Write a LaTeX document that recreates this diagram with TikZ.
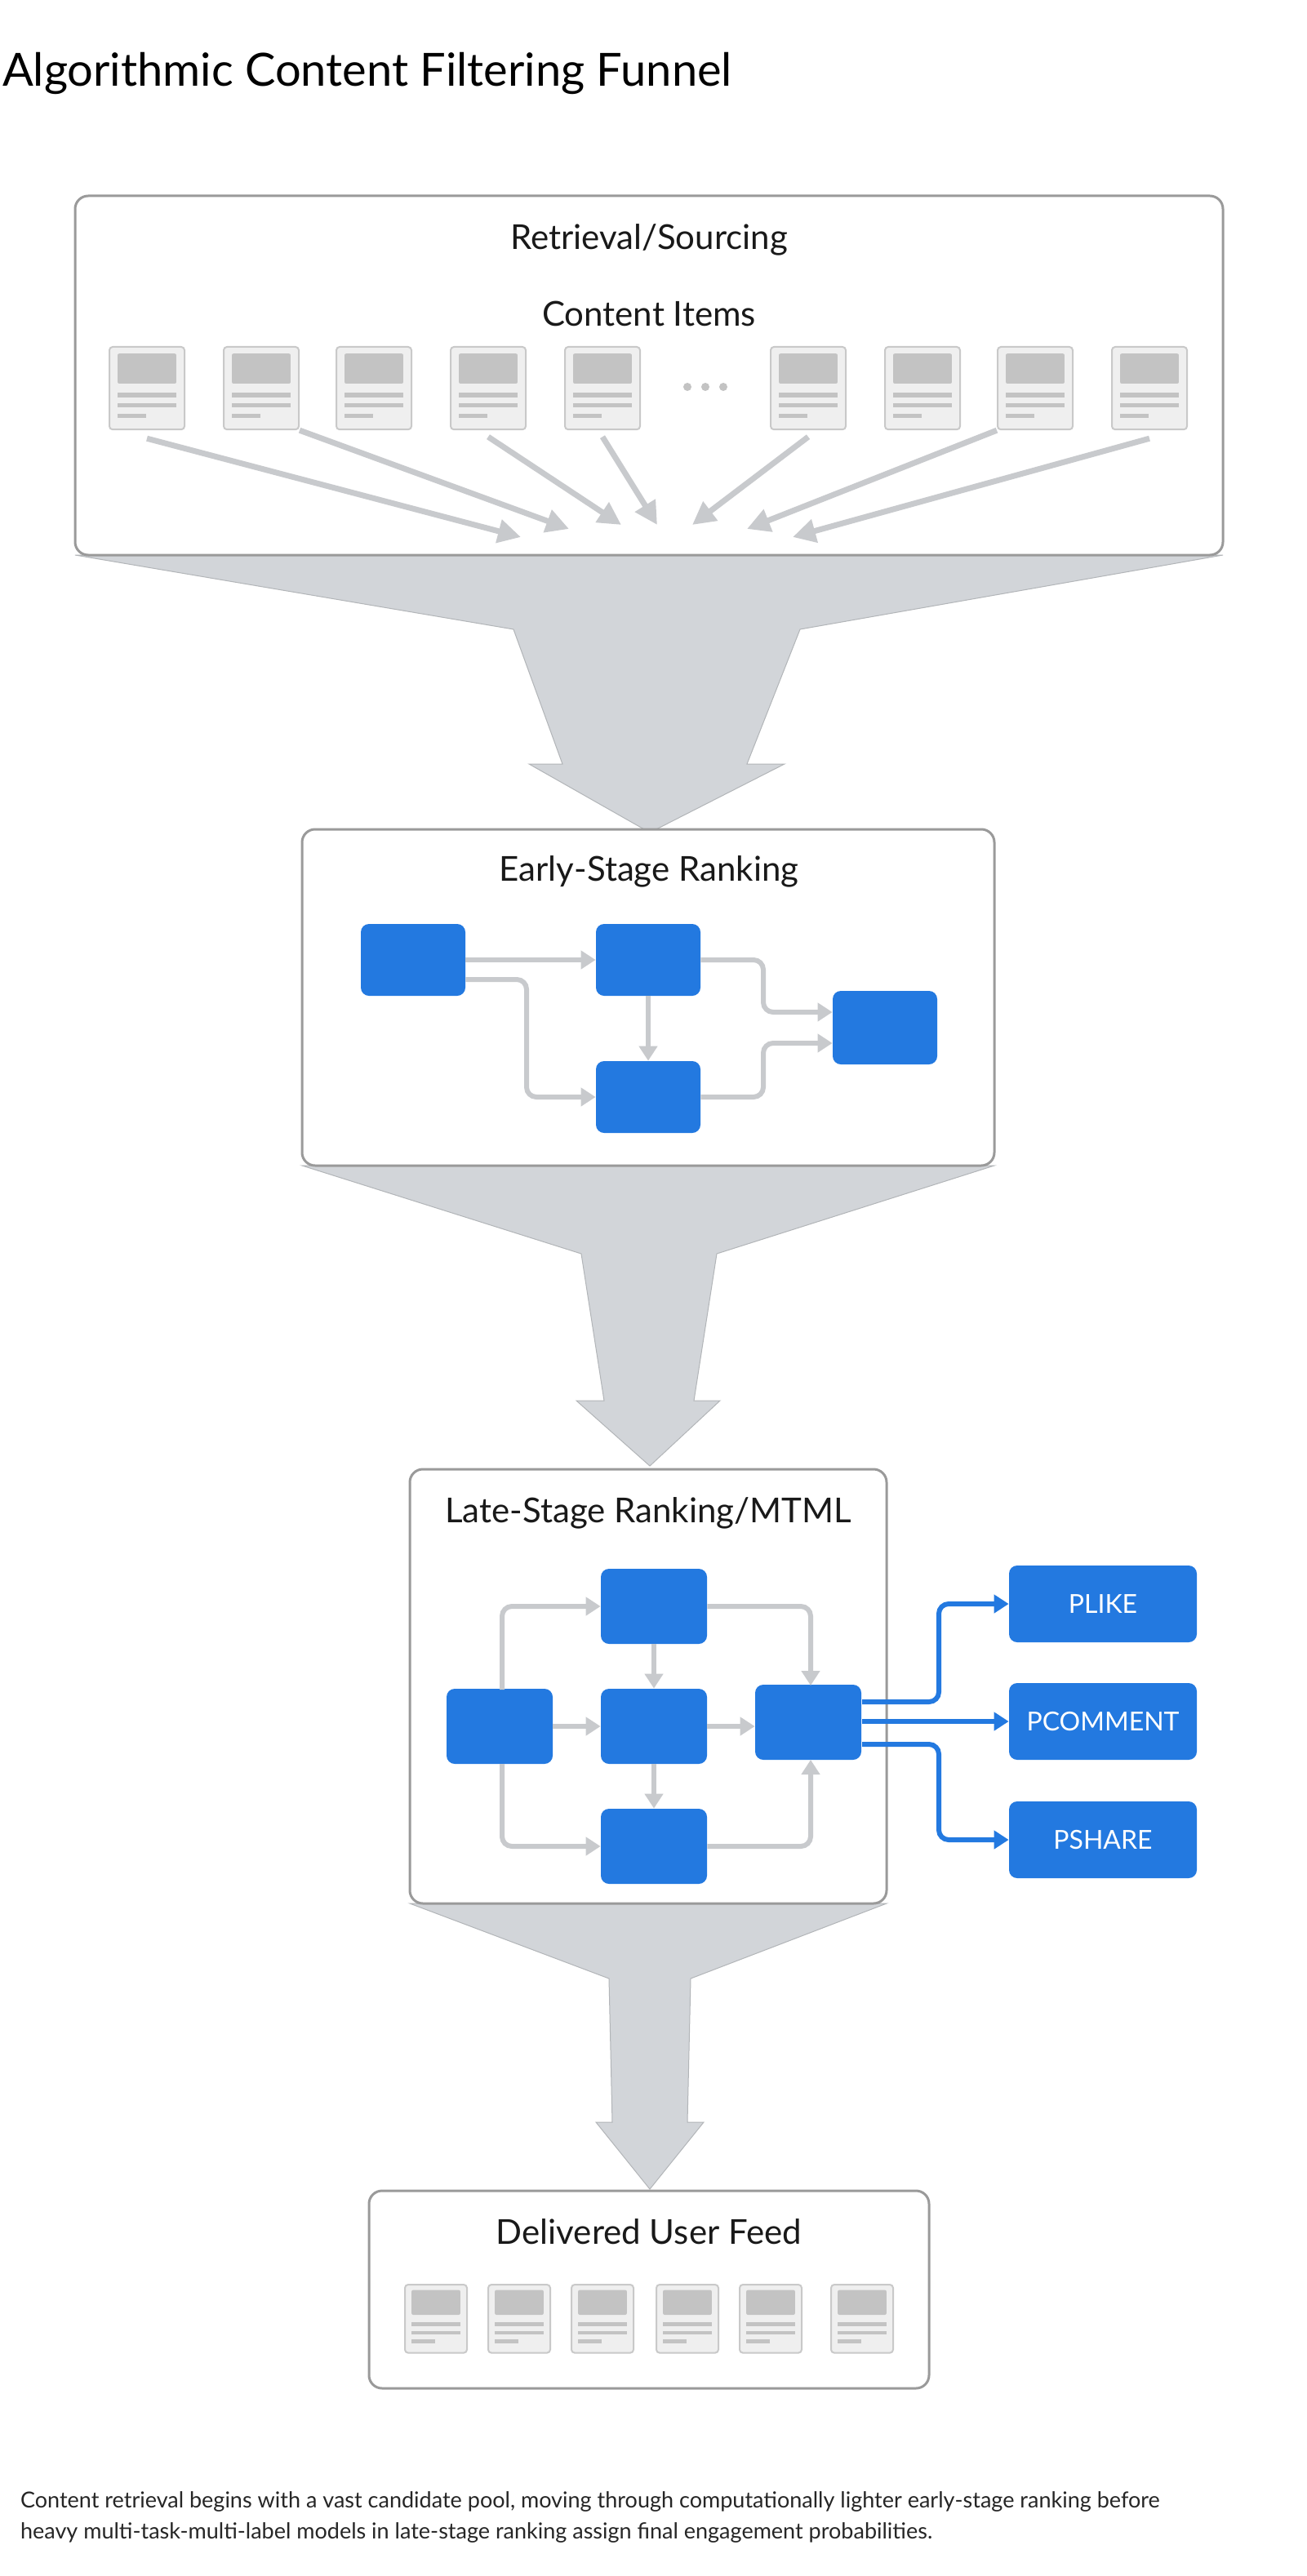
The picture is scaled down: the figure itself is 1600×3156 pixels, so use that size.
\documentclass[tikz,border=0pt]{standalone}
\usepackage{fontspec}
\setmainfont{Lato}
\usetikzlibrary{arrows.meta,calc}
\definecolor{fun}{HTML}{D2D5D9}
\definecolor{frm}{HTML}{9A9A9A}
\definecolor{blu}{HTML}{2379E0}
\definecolor{gcon}{HTML}{C8CACD}
\definecolor{docf}{HTML}{EFEFEF}
\definecolor{docb}{HTML}{C9C9C9}
\definecolor{docs}{HTML}{C3C3C3}
\tikzset{
  frame/.style={draw=frm,line width=1.5pt,rounded corners=8pt,fill=white},
  ttl/.style={font=\fontsize{21}{25}\selectfont,text=black!90},
  bb/.style={fill=blu,draw=none,rounded corners=5pt},
  outb/.style={fill=blu,rounded corners=5pt,text=white,font=\fontsize{16}{19}\selectfont},
  gc/.style={draw=gcon,line width=3pt,rounded corners=6pt,-{Triangle[length=9pt,width=11pt]}},
  bc/.style={draw=blu,line width=3pt,rounded corners=6pt,-{Triangle[length=9pt,width=11pt]}},
  ic/.style={draw=gcon,line width=3.5pt,-{Triangle[length=14pt,width=14pt]}},
  funnel/.style={fill=fun,draw=fun!85!black,line width=0.5pt},
}
\newcommand{\docicon}[4]{% name, cx, cy(top), w
  \node[draw=docb,fill=docf,rounded corners=2pt,line width=1pt,minimum width=#4*0.5pt,minimum height=#4*0.55pt,inner sep=0pt,anchor=north] (#1) at (#2,#3) {};
  \fill[docs,rounded corners=1pt] ($(#1.north west)+(0.12*#4,0.1*#4)$) rectangle ($(#1.north east)+(-0.12*#4,0.5*#4)$);
  \fill[docs] ($(#1.north west)+(0.12*#4,0.62*#4)$) rectangle ($(#1.north east)+(-0.12*#4,0.68*#4)$);
  \fill[docs] ($(#1.north west)+(0.12*#4,0.76*#4)$) rectangle ($(#1.north east)+(-0.12*#4,0.82*#4)$);
  \fill[docs] ($(#1.north west)+(0.12*#4,0.9*#4)$) rectangle ($(#1.north west)+(0.5*#4,0.96*#4)$);
}
\begin{document}
\begin{tikzpicture}[x=0.5pt,y=-0.5pt]
\useasboundingbox[fill=white] (0,0) rectangle (1600,3156);
\node[anchor=west,font=\fontsize{28}{32}\selectfont] (title) at (-4,90) {Algorithmic Content Filtering Funnel};
% funnels
\draw[funnel] (92,680) -- (1498,680) -- (980,771) -- (915,936) -- (961,936) -- (796,1020) -- (648,936) -- (689,936) -- (629,771) -- cycle;
\draw[funnel] (370,1428) -- (1218,1428) -- (878,1536) -- (850,1716) -- (882,1716) -- (796,1796) -- (706,1716) -- (740,1716) -- (712,1536) -- cycle;
\draw[funnel] (502,2332) -- (1086,2332) -- (846,2424) -- (842,2600) -- (862,2600) -- (796,2682) -- (730,2600) -- (750,2600) -- (746,2424) -- cycle;
% box1
\draw[frame] (92,240) rectangle (1498,680);
\node[ttl] (t1) at (795,294) {Retrieval/Sourcing};
\node[ttl] (t1b) at (795,384) {Content Items};
\foreach \n/\x in {a/180,b/320,c/458,d/598,e/738,f/990,g/1130,h/1268,i/1408}{\docicon{d\n}{\x}{424}{92}}
\foreach \k in {-1,0,1}{\fill[docs] (864+\k*22,474) circle (5);}
\coordinate (p1) at (638,658); \coordinate (p2) at (697,648); \coordinate (p3) at (761,643);
\coordinate (p4) at (805,643); \coordinate (p5) at (848,643); \coordinate (p6) at (915,648); \coordinate (p7) at (971,658);
\draw[ic] ($(da.south)+(0,10)$) -- (p1);
\draw[ic] (db.south east) -- (p2);
\draw[ic] ($(dd.south)+(0,8)$) -- (p3);
\draw[ic] ($(de.south)+(0,8)$) -- (p4);
\draw[ic] ($(df.south)+(0,8)$) -- (p5);
\draw[ic] (dh.south west) -- (p6);
\draw[ic] ($(di.south)+(0,10)$) -- (p7);
% box2
\draw[frame] (370,1016) rectangle (1218,1428);
\node[ttl] (t2) at (795,1068) {Early-Stage Ranking};
\node[bb,minimum width=64pt,minimum height=44pt] (ea) at (506,1176) {};
\node[bb,minimum width=64pt,minimum height=44pt] (eb) at (794,1176) {};
\node[bb,minimum width=64pt,minimum height=44pt] (ec) at (794,1344) {};
\node[bb,minimum width=64pt,minimum height=45pt] (ed) at (1084,1259) {};
\draw[gc] (ea.east) -- (eb.west);
\draw[gc] ($(ea.east)+(0,24)$) -| (645,1344) -- (ec.west);
\draw[gc] (eb.south) -- (ec.north);
\draw[gc] (eb.east) -| (935,1240) -- ($(ed.west)+(0,-19)$);
\draw[gc] (ec.east) -| (935,1278) -- ($(ed.west)+(0,19)$);
% box3
\draw[frame] (502,1800) rectangle (1086,2332);
\node[ttl] (t3) at (794,1854) {Late-Stage Ranking/MTML};
\tikzset{lb/.style={bb,minimum width=65pt,minimum height=46pt}}
\node[lb] (lt) at (801,1968) {};
\node[lb] (ll) at (612,2115) {};
\node[lb] (lm) at (801,2115) {};
\node[lb] (lbm) at (801,2262) {};
\node[lb] (lr) at (990,2110) {};
\draw[gc] (615,2070) |- (lt.west);
\draw[gc] (ll.east) -- (lm.west);
\draw[gc] (615,2161) |- (lbm.west);
\draw[gc] (lt.south) -- (lm.north);
\draw[gc] (lm.south) -- (lbm.north);
\draw[gc] (lm.east) -- ($(lr.west)+(0,5)$);
\draw[gc] (lt.east) -| (993,2065);
\draw[gc] (lbm.east) -| (993,2156);
\node[outb,minimum width=115pt,minimum height=47pt] (ol) at (1351,1965) {PLIKE};
\node[outb,minimum width=115pt,minimum height=47pt] (oc) at (1351,2109) {PCOMMENT};
\node[outb,minimum width=115pt,minimum height=47pt] (os) at (1351,2254) {PSHARE};
\draw[bc] (1056,2085) -| (1150,1965) -- (ol.west);
\draw[bc] (1056,2109) -- (oc.west);
\draw[bc] (1056,2137) -| (1150,2254) -- (os.west);
% box4
\draw[frame] (452,2684) rectangle (1138,2926);
\node[ttl] (t4) at (795,2734) {Delivered User Feed};
\foreach \n/\x in {a/534,b/636,c/738,d/842,e/944,f/1056}{\docicon{u\n}{\x}{2798}{76}}
% caption
\node[anchor=north west,align=left,font=\fontsize{13.5}{19}\selectfont,text=black!85] (cap) at (18,3046) {Content retrieval begins with a vast candidate pool, moving through computationally lighter early-stage ranking before\\heavy multi-task-multi-label models in late-stage ranking assign final engagement probabilities.};
\end{tikzpicture}
\end{document}
